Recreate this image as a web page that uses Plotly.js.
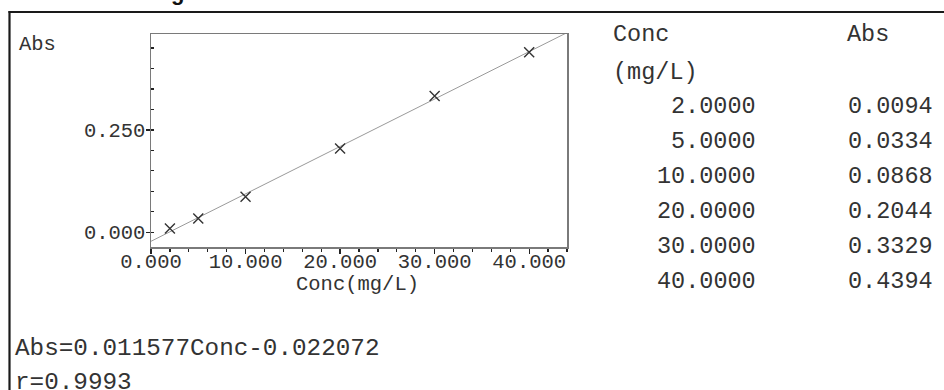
<!DOCTYPE html>
<html>
<head>
<meta charset="utf-8">
<script src="https://cdn.plot.ly/plotly-3.0.1.min.js"></script>
<style>
html,body{margin:0;padding:0;background:#fff;}
#chart{width:944px;height:390px;}
</style>
</head>
<body>
<div id="chart"></div>
<script>
// ---- data ----
const concValues = [2, 5, 10, 20, 30, 40];
const absValues = [0.0094, 0.0334, 0.0868, 0.2044, 0.3329, 0.4394];
const fitSlope = 0.011577;
const fitIntercept = -0.022072;
const fitR = "0.9993";
const xRange = [0, 44];
const yRange = [-0.036, 0.484];
const tableHeaders = ["Conc", "(mg/L)", "Abs"];
const xAxisTitle = "Conc(mg/L)";
const yAxisLabel = "Abs";
const clippedTitle = "g";

// ---- layout helpers ----
const W = 944, H = 390;
const M = {l: 151, r: 377, t: 34, b: 143};
const PW = W - M.l - M.r, PH = H - M.t - M.b;
const px = x => (x - M.l) / PW;
const py = y => (H - M.b - y) / PH;

const mono = "Courier New, Liberation Mono, monospace";
const txtColor = "#333";

const fitX = [xRange[0], xRange[1]];
const fitY = fitX.map(x => fitSlope * x + fitIntercept);

const traces = [
  {x: fitX, y: fitY, mode: "lines", line: {color: "#9a9a9a", width: 1}, hoverinfo: "skip", cliponaxis: true},
  {x: concValues, y: absValues, mode: "markers",
   marker: {symbol: "x-thin-open", size: 10, color: "#333", line: {color: "#333", width: 1.4}}}
];

const ann = [];
function addText(text, x, y, size, xanchor, opts) {
  ann.push(Object.assign({
    text: text, xref: "paper", yref: "paper", x: px(x), y: py(y),
    xanchor: xanchor, yanchor: "middle", showarrow: false,
    font: {family: mono, size: size, color: txtColor}
  }, opts || {}));
}
addText(yAxisLabel, 17, 45, 20.5, "left");
addText(xAxisTitle, 357, 284, 20.5, "center");
addText(tableHeaders[0], 611, 34, 23.5, "left");
addText(tableHeaders[1], 611, 72, 23.5, "left");
addText(tableHeaders[2], 845, 34, 23.5, "left");
const rowY0 = 106, rowStep = 35.1;
concValues.forEach((c, i) => {
  addText(c.toFixed(4), 758, rowY0 + i * rowStep, 23.5, "right");
  addText(absValues[i].toFixed(4), 935, rowY0 + i * rowStep, 23.5, "right");
});
addText("Abs=" + fitSlope.toFixed(6) + "Conc-" + Math.abs(fitIntercept).toFixed(6), 13, 348, 24.3, "left");
addText("r=" + fitR, 13, 382, 24.3, "left");
ann.push({text: "<b>" + clippedTitle + "</b>", xref: "paper", yref: "paper", x: px(177), y: py(-8),
  xanchor: "center", yanchor: "middle", showarrow: false,
  font: {family: "Liberation Sans, Arial, sans-serif", size: 22, color: "#111"}});

const shapes = [
  {type: "line", xref: "paper", yref: "paper", x0: px(8.5), x1: px(W + 5), y0: py(12), y1: py(12),
   line: {color: "#1a1a1a", width: 2.2}},
  {type: "line", xref: "paper", yref: "paper", x0: px(9.5), x1: px(9.5), y0: py(11), y1: py(H + 5),
   line: {color: "#1a1a1a", width: 2.2}}
];

const layout = {
  width: W, height: H,
  margin: M,
  paper_bgcolor: "#fff", plot_bgcolor: "#fff",
  showlegend: false,
  font: {family: mono, color: txtColor},
  xaxis: {
    range: xRange, showgrid: false, zeroline: false,
    showline: true, mirror: true, linecolor: "#7a7a7a", linewidth: 1.5,
    ticks: "outside", ticklen: 5, tickwidth: 1.3, tickcolor: "#222",
    tick0: 0, dtick: 10, tickformat: ".3f", ticklabelstandoff: -10,
    minor: {dtick: 2, ticks: "outside", ticklen: 3, tickwidth: 1.3, tickcolor: "#222", showgrid: false},
    tickfont: {family: mono, size: 20.5, color: txtColor}
  },
  yaxis: {
    range: yRange, showgrid: false, zeroline: false,
    showline: true, mirror: true, linecolor: "#7a7a7a", linewidth: 1.5,
    ticks: "outside", ticklen: 4, tickwidth: 1.3, tickcolor: "#222",
    tick0: 0, dtick: 0.25, tickformat: ".3f", ticklabelstandoff: -4,
    minor: {dtick: 0.05, ticks: "inside", ticklen: 3, tickwidth: 1.3, tickcolor: "#222", showgrid: false},
    tickfont: {family: mono, size: 20.5, color: txtColor}
  },
  annotations: ann,
  shapes: shapes
};

Plotly.newPlot("chart", traces, layout, {staticPlot: true, displayModeBar: false});
</script>
</body>
</html>
